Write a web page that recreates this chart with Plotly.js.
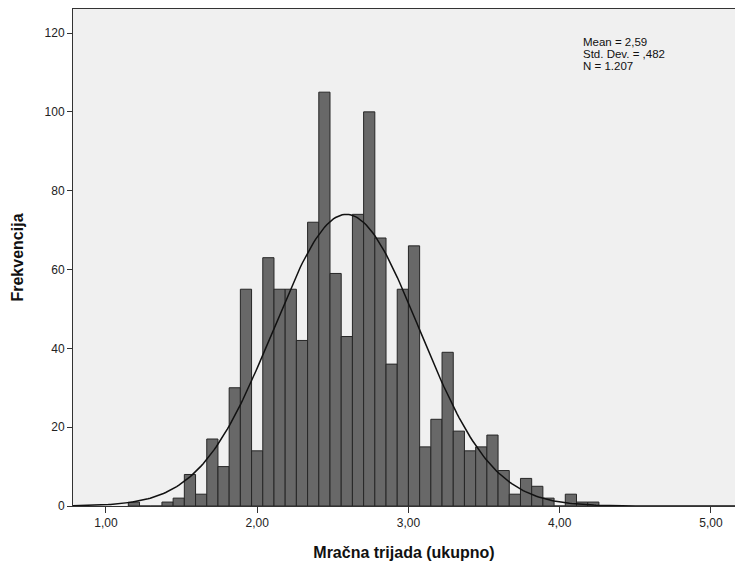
<!DOCTYPE html>
<html>
<head>
<meta charset="utf-8">
<script src="https://cdn.plot.ly/plotly-3.0.1.min.js"></script>
<style>html,body{margin:0;padding:0;background:#fff;}#chart{width:735px;height:566px;}</style>
</head>
<body>
<div id="chart"></div>
<script>
// Histogram bins: width 2/27, first drawn bin index 2 (edges at 1 + k*2/27)
const binOrigin = 1.0;
const binWidth = 2 / 27;
const firstBinIndex = 2;
const counts = [1, 0, 0, 1, 2, 8, 3, 17, 10, 30, 55, 14, 63, 55, 55, 42, 72, 105, 59, 43, 74,
                100, 68, 36, 55, 66, 15, 22, 39, 19, 14, 15, 18, 9, 3, 7, 5, 2, 0, 3, 1, 1];
// Summary statistics shown on the chart
const meanVal = 2.59;
const sdVal = 0.482;
const nVal = 1207;
const statLines = ["Mean = 2,59", "Std. Dev. = ,482", "N = 1.207"];
// Axis ticks
const xTickVals = [1, 2, 3, 4, 5];
const xTickText = ["1,00", "2,00", "3,00", "4,00", "5,00"];
const yTickVals = [0, 20, 40, 60, 80, 100, 120];
const xTitle = "Mračna trijada (ukupno)";
const yTitle = "Frekvencija";

const xRange = [0.7824, 5.159];
const yRange = [0, 126.1];

const centers = counts.map((c, i) => binOrigin + (firstBinIndex + i + 0.5) * binWidth);

// Fitted normal curve (scaled to counts per bin)
const curveX = [], curveY = [];
const steps = 300;
for (let k = 0; k <= steps; k++) {
  const x = xRange[0] + (xRange[1] - xRange[0]) * k / steps;
  const z = (x - meanVal) / sdVal;
  curveX.push(x);
  curveY.push(nVal * binWidth / (sdVal * Math.sqrt(2 * Math.PI)) * Math.exp(-0.5 * z * z));
}

const font = "Liberation Sans, Arial, sans-serif";

const traces = [
  {
    type: "bar",
    x: centers,
    y: counts,
    width: binWidth,
    marker: {color: "#686868", line: {color: "#262626", width: 1}},
    hoverinfo: "x+y"
  },
  {
    type: "scatter",
    mode: "lines",
    x: curveX,
    y: curveY,
    line: {color: "#111", width: 1.5},
    hoverinfo: "skip"
  }
];

const annotations = statLines.map((t, i) => ({
  xref: "paper", yref: "paper",
  x: 0.768, y: 0.933 - i * 0.0242,
  xanchor: "left", yanchor: "middle",
  text: t, showarrow: false,
  font: {family: font, size: 11.5, color: "#111"}
}));

const layout = {
  width: 735, height: 566,
  margin: {l: 73.3, r: 0, t: 9.3, b: 60, pad: 0},
  paper_bgcolor: "#ffffff",
  plot_bgcolor: "#f0f0f0",
  showlegend: false,
  bargap: 0,
  font: {family: font, size: 12, color: "#222"},
  xaxis: {
    range: xRange,
    tickvals: xTickVals, ticktext: xTickText,
    ticks: "outside", ticklen: 6, tickwidth: 1, tickcolor: "#333",
    showgrid: false, zeroline: false,
    showline: true, linecolor: "#333", linewidth: 1, mirror: true,
    tickfont: {family: font, size: 12, color: "#222"},
    title: {text: xTitle, font: {family: font, size: 16, color: "#111", weight: "bold"}, standoff: 17}
  },
  yaxis: {
    range: yRange,
    tickvals: yTickVals,
    ticks: "outside", ticklen: 5, tickwidth: 1, tickcolor: "#333",
    showgrid: false, zeroline: false,
    showline: true, linecolor: "#333", linewidth: 1,
    tickfont: {family: font, size: 12, color: "#222"},
    title: {text: yTitle, font: {family: font, size: 16, color: "#111", weight: "bold"}, standoff: 16}
  },
  annotations: annotations
};

Plotly.newPlot("chart", traces, layout, {displayModeBar: false, staticPlot: true});
</script>
</body>
</html>
